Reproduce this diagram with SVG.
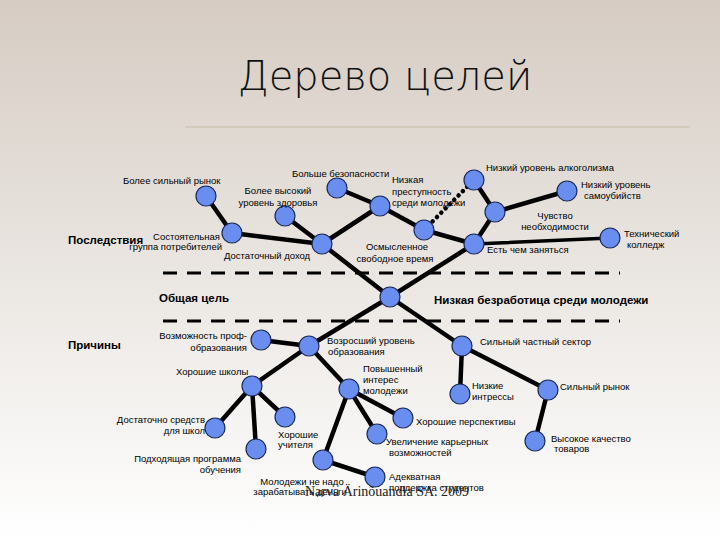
<svg xmlns="http://www.w3.org/2000/svg" width="720" height="540" viewBox="0 0 720 540">
<defs>
<linearGradient id="bg" x1="0" y1="0" x2="0" y2="1">
<stop offset="0" stop-color="#d6ccc3"/><stop offset="0.55" stop-color="#ece8e4"/><stop offset="1" stop-color="#ffffff"/>
</linearGradient>
<style>
.n circle{fill:#6a8ef0;stroke:#1a2a5a;stroke-width:1.2}
.e line{stroke:#000;stroke-width:4.5;stroke-linecap:round}
text{font-family:"Liberation Sans",Arial,sans-serif;font-size:9.5px;fill:#000}
.b{font-weight:bold;font-size:11.5px}
.m{text-anchor:middle}
.r{text-anchor:end}
</style>
</defs>
<rect width="720" height="540" fill="url(#bg)"/>
<text x="385" y="90" class="m" style="font-size:40px;font-family:'DejaVu Sans',sans-serif;font-weight:200;fill:#111">Дерево целей</text>
<line x1="185" y1="127" x2="690" y2="127" stroke="#c8bcaa" stroke-width="1"/>
<g id="dividers" stroke="#000" stroke-width="3" stroke-dasharray="14,10">
<line x1="163" y1="273" x2="620" y2="273"/>
<line x1="163" y1="321" x2="620" y2="321"/>
</g>
<g id="connectors" class="e">
<line x1="390" y1="297" x2="322" y2="244"/>
<line x1="390" y1="297" x2="474" y2="244"/>
<line x1="390" y1="297" x2="309" y2="346"/>
<line x1="390" y1="297" x2="462" y2="346"/>
<line x1="322" y1="244" x2="232" y2="233"/>
<line x1="322" y1="244" x2="285" y2="216"/>
<line x1="322" y1="244" x2="380" y2="206"/>
<line x1="232" y1="233" x2="206" y2="196"/>
<line x1="380" y1="206" x2="337" y2="188"/>
<line x1="380" y1="206" x2="424" y2="230"/>
<line x1="424" y1="230" x2="474" y2="244"/>
<line x1="474" y1="244" x2="495" y2="212"/>
<line x1="474" y1="244" x2="610" y2="238" style="stroke-width:3.5"/>
<line x1="495" y1="212" x2="474" y2="180"/>
<line x1="495" y1="212" x2="567" y2="191"/>
<line x1="424" y1="230" x2="474" y2="180" style="stroke-dasharray:0.1,6;stroke-width:4.5"/>
<line x1="309" y1="346" x2="261" y2="340"/>
<line x1="309" y1="346" x2="252" y2="386"/>
<line x1="309" y1="346" x2="349" y2="389"/>
<line x1="252" y1="386" x2="215" y2="428"/>
<line x1="252" y1="386" x2="256" y2="449"/>
<line x1="252" y1="386" x2="285" y2="417"/>
<line x1="349" y1="389" x2="323" y2="460"/>
<line x1="349" y1="389" x2="377" y2="434"/>
<line x1="349" y1="389" x2="403" y2="418"/>
<line x1="323" y1="460" x2="375" y2="477"/>
<line x1="462" y1="346" x2="460" y2="394"/>
<line x1="462" y1="346" x2="548" y2="390"/>
<line x1="548" y1="390" x2="535" y2="441"/>
</g>
<g id="root" class="n"><circle cx="390" cy="297" r="10"/><text x="159" y="302" class="b">Общая цель</text><text x="434" y="304" class="b">Низкая безработица среди молодежи</text></g>
<text x="68" y="244" class="b">Последствия</text>
<text x="68" y="349" class="b">Причины</text>
<g id="n1" class="n"><circle cx="206" cy="196" r="10"/><text x="123" y="184">Более сильный рынок</text></g>
<g id="n2" class="n"><circle cx="232" cy="233" r="10"/><text x="220" y="240" class="r">Состоятельная</text><text x="222" y="250" class="r">группа потребителей</text></g>
<g id="n3" class="n"><circle cx="322" cy="244" r="10"/><text x="224" y="259">Достаточный доход</text></g>
<g id="n4" class="n"><circle cx="285" cy="216" r="10"/><text x="278" y="194" class="m">Более высокий</text><text x="278" y="206" class="m">уровень здоровья</text></g>
<g id="n5" class="n"><circle cx="337" cy="188" r="10"/><text x="292" y="177">Больше безопасности</text></g>
<g id="n6" class="n"><circle cx="380" cy="206" r="10"/><text x="392" y="183">Низкая</text><text x="392" y="195">преступность</text><text x="392" y="206">среди молодежи</text></g>
<g id="n7" class="n"><circle cx="424" cy="230" r="10"/><text x="397" y="250" class="m">Осмысленное</text><text x="395" y="262" class="m">свободное время</text></g>
<g id="n8" class="n"><circle cx="474" cy="244" r="10"/><text x="487" y="253">Есть чем заняться</text></g>
<g id="n9" class="n"><circle cx="495" cy="212" r="10"/><text x="555" y="219" class="m">Чувство</text><text x="555" y="230" class="m">необходимости</text></g>
<g id="n10" class="n"><circle cx="474" cy="180" r="10"/><text x="486" y="171">Низкий уровень алкоголизма</text></g>
<g id="n11" class="n"><circle cx="567" cy="191" r="10"/><text x="581" y="188">Низкий уровень</text><text x="584" y="199">самоубийств</text></g>
<g id="n12" class="n"><circle cx="610" cy="238" r="10"/><text x="624" y="237">Технический</text><text x="627" y="248">колледж</text></g>
<g id="n13" class="n"><circle cx="261" cy="340" r="10"/><text x="247" y="339" class="r">Возможность проф-</text><text x="247" y="351" class="r">образования</text></g>
<g id="n14" class="n"><circle cx="309" cy="346" r="10"/><text x="327" y="344">Возросший уровень</text><text x="328" y="355">образования</text></g>
<g id="n15" class="n"><circle cx="462" cy="346" r="10"/><text x="480" y="345">Сильный частный сектор</text></g>
<g id="n16" class="n"><circle cx="252" cy="386" r="10"/><text x="176" y="375">Хорошие школы</text></g>
<g id="n17" class="n"><circle cx="349" cy="389" r="10"/><text x="363" y="372">Повышенный</text><text x="363" y="383">интерес</text><text x="363" y="394">молодежи</text></g>
<g id="n18" class="n"><circle cx="460" cy="394" r="10"/><text x="472" y="389">Низкие</text><text x="472" y="400">интрессы</text></g>
<g id="n19" class="n"><circle cx="548" cy="390" r="10"/><text x="560" y="390">Сильный рынок</text></g>
<g id="n20" class="n"><circle cx="215" cy="428" r="10"/><text x="205" y="423" class="r">Достаточно средств</text><text x="205" y="434" class="r">для школ</text></g>
<g id="n21" class="n"><circle cx="285" cy="417" r="10"/><text x="278" y="438">Хорошие</text><text x="278" y="448">учителя</text></g>
<g id="n22" class="n"><circle cx="256" cy="449" r="10"/><text x="241" y="462" class="r">Подходящая программа</text><text x="241" y="473" class="r">обучения</text></g>
<g id="n23" class="n"><circle cx="323" cy="460" r="10"/><text x="302" y="485" class="m">Молодежи не надо</text><text x="300" y="495" class="m">зарабатывать деньги</text></g>
<g id="n24" class="n"><circle cx="375" cy="477" r="10"/><text x="389" y="480">Адекватная</text><text x="389" y="491">поддержка студентов</text></g>
<g id="n25" class="n"><circle cx="377" cy="434" r="10"/><text x="386" y="445">Увеличение карьерных</text><text x="389" y="456">возможностей</text></g>
<g id="n26" class="n"><circle cx="403" cy="418" r="10"/><text x="416" y="425">Хорошие перспективы</text></g>
<g id="n27" class="n"><circle cx="535" cy="441" r="10"/><text x="551" y="442">Высокое качество</text><text x="554" y="452">товаров</text></g>
<text x="305" y="496" style="font-family:'Liberation Serif',serif;font-size:14px;fill:#222">Narva Ärinõuandla SA. 2009</text>
</svg>
